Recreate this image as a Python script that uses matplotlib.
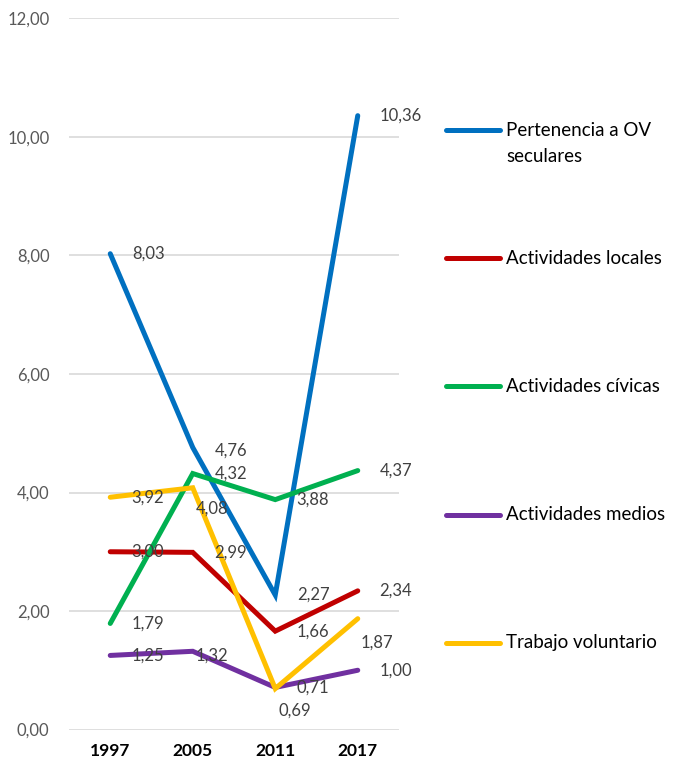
import matplotlib
matplotlib.use("Agg")
import matplotlib.pyplot as plt
from matplotlib.lines import Line2D

plt.rcParams.update({"font.family": ["Lato", "DejaVu Sans"]})

years = ["1997", "2005", "2011", "2017"]
series_names = ["Pertenencia a OV\nseculares", "Actividades locales",
                "Actividades cívicas", "Actividades medios",
                "Trabajo voluntario"]
pertenencia = [8.03, 4.76, 2.27, 10.36]
locales = [3.00, 2.99, 1.66, 2.34]
civicas = [1.79, 4.32, 3.88, 4.37]
medios = [1.25, 1.32, 0.71, 1.00]
voluntario = [3.92, 4.08, 0.69, 1.87]
yticks = [0, 2, 4, 6, 8, 10, 12]

colors = ["#0070C0", "#C00000", "#00B050", "#7030A0", "#FFC000"]
values = [pertenencia, locales, civicas, medios, voluntario]

# label placement in points: (dx, dy, ha); most labels sit right of the point
R = (15.5, 0, "left")
offsets = [
    [R, (15.5, -2, "left"), R, R],
    [R, R, R, R],
    [R, R, R, R],
    [R, (2, -3, "left"), R, R],
    [R, (14, -15, "center"), (14, -16, "center"), (14, -17, "center")],
]


def fmt(v):
    return f"{v:.2f}".replace(".", ",")


fig = plt.figure(figsize=(6.73, 7.65), dpi=100)
ax = fig.add_axes([69 / 673, 35.5 / 765, 330 / 673, 711 / 765])
xs = range(len(years))

for vals, c, offs in zip(values, colors, offsets):
    ax.plot(xs, vals, color=c, linewidth=3.6, solid_joinstyle="miter",
            solid_capstyle="round")
    for x, v, (dx, dy, ha) in zip(xs, vals, offs):
        ax.annotate(fmt(v), (x, v), xytext=(dx, dy),
                    textcoords="offset points", ha=ha, va="center",
                    fontsize=12, color="#404040")

ax.set_xlim(-0.5, 3.5)
ax.set_ylim(0, 12)
ax.set_yticks(yticks)
ax.set_yticklabels([fmt(t) for t in yticks], fontsize=12, color="#595959")
ax.set_xticks(list(xs))
ax.set_xticklabels(years, fontsize=12.5, fontweight="bold", color="black")
ax.tick_params(length=0)
ax.tick_params(axis="y", pad=14)
ax.tick_params(axis="x", pad=10)
ax.grid(axis="y", color="#D9D9D9", linewidth=1.2)
ax.set_axisbelow(True)
for sp in ax.spines.values():
    sp.set_visible(False)

# legend on the right, evenly spaced entries
for i, (name, c) in enumerate(zip(series_names, colors)):
    y = 1 - (130 + i * 128.2) / 765
    fig.add_artist(Line2D([446 / 673, 500 / 673], [y, y], color=c,
                          linewidth=3.6, solid_capstyle="round",
                          transform=fig.transFigure))
    lines = name.split("\n")
    for j, part in enumerate(lines):
        fig.text(506 / 673, y - j * 27 / 765, part, fontsize=13.5,
                 va="center", ha="left", color="black")

fig.savefig("out.png", dpi=100)
